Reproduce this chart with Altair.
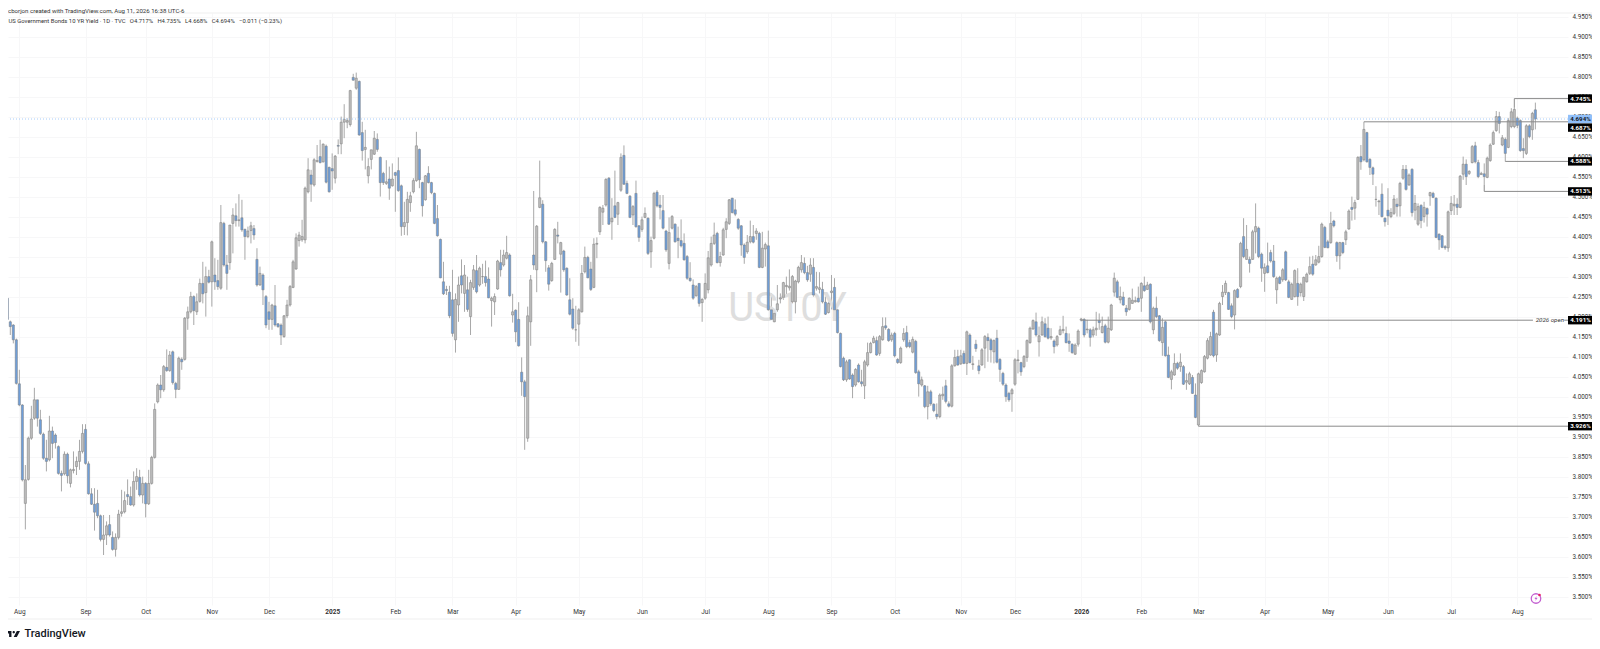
import altair as alt
import pandas as pd

# (open, close, high, low) in thousandths of a percent
seg_2024_aug = [(4246,4193,4250,4190),(4187,4175,4190,4154),(4179,4142,4181,4133),(4142,4033,4145,4030),(4032,3979,4067,3976),(3979,3792,3981,3788),(3733,3792,3829,3668),(3793,3896,3900,3790),(3896,3944,3977,3892),(3946,3992,4022,3942),(3992,3946,3992,3925),(3942,3908,3967,3904),(3906,3846,3910,3842),(3846,3838,3892,3813),(3842,3914,3952,3838),(3914,3883,3925,3846),(3904,3885,3908,3870),(3875,3808,3878,3805),(3808,3803,3815,3763),(3807,3856,3863,3803),(3856,3802,3860,3783),(3783,3817,3820,3773),(3815,3818,3863,3808),(3825,3838,3850,3804),(3838,3863,3892,3817),(3863,3908,3931,3858)]
seg_2024_sep = [(3918,3833,3931,3830),(3832,3757,3838,3755),(3757,3731,3771,3729),(3731,3711,3771,3665),(3733,3702,3767,3696),(3702,3643,3705,3638),(3643,3654,3704,3604),(3654,3677,3688,3629),(3680,3654,3704,3650),(3648,3618,3663,3615),(3618,3648,3658,3600),(3648,3706,3717,3643),(3708,3712,3767,3700),(3712,3740,3763,3708),(3755,3750,3793,3729),(3750,3729,3775,3727),(3729,3788,3813,3725),(3788,3800,3821,3767),(3798,3754,3817,3750),(3754,3783,3800,3733)]
seg_2024_oct = [(3783,3732,3786,3698),(3732,3783,3817,3729),(3783,3848,3852,3780),(3848,3968,3983,3845),(3987,4029,4033,3983),(4029,4017,4054,3996),(4017,4075,4079,4012),(4073,4065,4118,4062),(4065,4104,4114,4062),(4112,4035,4115,4030),(4033,4018,4037,3996),(4018,4096,4100,4017),(4093,4087,4098,4067),(4093,4196,4199,4090),(4196,4212,4225,4167),(4212,4250,4262,4208),(4250,4215,4253,4179),(4212,4237,4258,4204),(4238,4283,4295,4235),(4283,4257,4337,4233),(4260,4300,4325,4200),(4300,4286,4317,4283)]
seg_2024_nov = [(4287,4387,4390,4225),(4304,4287,4346,4267),(4290,4275,4342,4267),(4271,4435,4479,4267),(4433,4329,4437,4325),(4329,4308,4354,4267),(4335,4429,4429,4317),(4433,4454,4471,4358),(4452,4440,4483,4425),(4440,4442,4506,4425),(4447,4417,4492,4412),(4418,4400,4420,4342),(4400,4414,4425,4396),(4415,4427,4437,4383),(4420,4404,4429,4392),(4343,4279,4371,4275),(4279,4308,4325,4277),(4304,4267,4308,4229),(4250,4179,4254,4171)]
seg_2024_dec = [(4212,4193,4237,4167),(4193,4229,4232,4167),(4227,4179,4279,4175),(4182,4175,4184,4172),(4179,4154,4183,4129),(4150,4202,4204,4147),(4202,4229,4242,4196),(4229,4275,4279,4225),(4273,4337,4342,4271),(4319,4397,4408,4317),(4390,4404,4412,4375),(4392,4400,4442,4387),(4392,4521,4525,4383),(4512,4567,4596,4508),(4554,4531,4567,4487),(4529,4592,4596,4525),(4588,4590,4629,4585),(4600,4585,4642,4583),(4587,4631,4633,4585),(4626,4536,4630,4533),(4573,4512,4575,4510)]
seg_2025_jan = [(4570,4564,4608,4517),(4546,4601,4604,4533),(4628,4626,4643,4606),(4632,4686,4700,4606),(4686,4693,4731,4646),(4686,4690,4696,4671),(4680,4765,4767,4675),(4798,4791,4807,4790),(4771,4796,4810,4767),(4788,4654,4790,4652),(4660,4615,4687,4590),(4618,4623,4667,4568),(4552,4575,4596,4533),(4593,4617,4617,4568),(4606,4646,4664,4604),(4643,4618,4658,4612),(4598,4535,4600,4500),(4558,4535,4562,4529),(4533,4537,4591,4529),(4544,4521,4575,4492),(4527,4544,4583,4525),(4560,4553,4562,4462)]
seg_2025_feb = [(4565,4515,4598,4512),(4527,4425,4530,4402),(4425,4435,4487,4404),(4435,4493,4512,4403),(4485,4502,4512,4462),(4512,4540,4546,4508),(4540,4627,4662,4537),(4618,4542,4620,4521),(4535,4477,4537,4450),(4492,4552,4554,4490),(4558,4535,4576,4533),(4535,4510,4537,4506),(4508,4433,4510,4431),(4445,4402,4479,4400),(4393,4297,4395,4296),(4287,4257,4337,4254),(4268,4265,4277,4254),(4261,4202,4277,4196)]
seg_2025_mar = [(4242,4158,4317,4150),(4142,4243,4258,4110),(4229,4279,4300,4187),(4302,4279,4343,4258),(4258,4304,4329,4212),(4267,4218,4300,4212),(4200,4285,4292,4154),(4273,4317,4329,4267),(4315,4262,4354,4258),(4279,4321,4325,4275),(4300,4300,4332,4282),(4300,4285,4340,4275),(4294,4247,4323,4246),(4240,4246,4250,4175),(4237,4250,4258,4204),(4269,4339,4342,4267),(4335,4317,4367,4300),(4329,4354,4367,4325),(4346,4360,4402,4343),(4354,4252,4358,4250),(4204,4212,4257,4185),(4216,4162,4218,4136)]
seg_2025_apr = [(4193,4127,4236,4125),(4061,4037,4098,4002),(4037,4000,4042,3867),(3896,4202,4225,3887),(4187,4292,4304,4127),(4354,4329,4514,4317),(4317,4426,4429,4261),(4473,4497,4590,4471),(4481,4387,4491,4383),(4387,4340,4389,4312),(4322,4281,4329,4265),(4290,4333,4337,4287),(4343,4418,4421,4342),(4404,4401,4437,4383),(4356,4385,4387,4260),(4364,4317,4367,4312),(4321,4254,4323,4252),(4242,4206,4296,4203),(4219,4171,4246,4167),(4167,4167,4227,4137),(4181,4217,4221,4127)]
seg_2025_may = [(4212,4308,4329,4210),(4312,4348,4375,4308),(4348,4297,4352,4296),(4319,4268,4337,4264),(4273,4381,4396,4271),(4381,4383,4398,4346),(4412,4473,4476,4404),(4461,4471,4479,4429),(4479,4543,4546,4475),(4546,4431,4549,4429),(4437,4446,4496,4392),(4477,4448,4565,4446),(4456,4485,4487,4429),(4516,4598,4608,4512),(4603,4531,4628,4529),(4533,4508,4540,4506),(4501,4448,4504,4446),(4454,4475,4479,4429),(4508,4425,4540,4422),(4427,4398,4429,4387),(4418,4442,4450,4412)]
seg_2025_jun = [(4448,4458,4473,4446),(4446,4358,4448,4354),(4362,4390,4400,4322),(4396,4508,4512,4393),(4511,4477,4516,4473),(4479,4473,4504,4443),(4465,4421,4504,4418),(4414,4367,4417,4362),(4333,4410,4448,4318),(4421,4450,4454,4418),(4431,4387,4433,4385),(4396,4390,4425,4346),(4390,4377,4443,4373),(4383,4342,4408,4340),(4350,4296,4354,4292),(4296,4290,4336,4287),(4279,4246,4293,4242),(4252,4275,4279,4250),(4283,4233,4283,4225),(4235,4243,4246,4187),(4246,4283,4308,4242)]
seg_2025_jul = [(4267,4347,4364,4258),(4329,4383,4400,4325),(4383,4404,4435,4379),(4408,4335,4412,4333),(4335,4350,4362,4325),(4354,4417,4422,4352),(4418,4437,4446,4396),(4433,4492,4494,4429),(4496,4460,4497,4458),(4467,4456,4493,4451),(4443,4421,4446,4417),(4427,4379,4429,4352),(4379,4348,4383,4332),(4362,4386,4404,4357),(4387,4400,4440,4383),(4400,4386,4429,4383),(4408,4414,4421,4392),(4408,4323,4412,4321),(4323,4371,4412,4321),(4369,4380,4385,4325),(4377,4217,4415,4215)]
seg_2025_aug = [(4217,4193,4258,4192),(4187,4208,4212,4186),(4217,4232,4279,4212),(4244,4247,4258,4233),(4248,4285,4287,4242),(4275,4278,4300,4250),(4272,4276,4318,4265),(4237,4300,4304,4233),(4237,4289,4292,4208),(4287,4323,4327,4283),(4317,4335,4354,4310),(4333,4310,4348,4306),(4310,4292,4327,4287),(4306,4329,4346,4287),(4323,4254,4346,4250),(4271,4275,4312,4265),(4268,4272,4311,4258),(4268,4237,4287,4233),(4236,4206,4250,4204),(4210,4233,4237,4208),(4260,4264,4304,4218)]
seg_2025_sep = [(4273,4217,4296,4215),(4217,4160,4218,4158),(4158,4075,4160,4073),(4096,4042,4100,4039),(4042,4087,4092,4037),(4092,4044,4093,4042),(4054,4025,4058,3996),(4029,4068,4071,4025),(4079,4037,4083,4035),(4037,4032,4067,4025),(4027,4087,4092,3994),(4079,4110,4135,4075),(4110,4133,4137,4108),(4135,4146,4152,4133),(4140,4104,4150,4102),(4108,4150,4154,4102),(4142,4175,4198,4140),(4177,4172,4198,4167),(4168,4140,4171,4137),(4142,4154,4160,4137),(4158,4102,4162,4098)]
seg_2025_oct = [(4093,4085,4096,4082),(4085,4121,4125,4082),(4142,4158,4171,4137),(4160,4125,4177,4121),(4135,4125,4142,4121),(4111,4143,4150,4108),(4138,4060,4142,4057),(4062,4032,4067,4000),(4029,4042,4050,4025),(4027,3975,4029,3971),(3975,4012,4027,3943),(4012,3982,4017,3977),(3981,3965,3983,3961),(3956,3950,3983,3943),(3950,4004,4008,3946),(4002,4006,4025,3992),(4027,3988,4042,3983),(3982,3976,3988,3973),(3976,4077,4081,3973),(4077,4098,4117,4075),(4100,4079,4117,4077),(4082,4102,4117,4079)]
seg_2025_nov = [(4108,4083,4115,4081),(4083,4162,4165,4054),(4154,4085,4158,4083),(4080,4082,4102,4067),(4131,4120,4142,4112),(4077,4065,4092,4056),(4079,4117,4121,4077),(4121,4150,4154,4071),(4148,4140,4158,4087),(4142,4117,4146,4085),(4112,4140,4143,4083),(4146,4086,4167,4083),(4093,4068,4096,4037),(4058,4031,4062,4027),(4029,4000,4033,3987),(4008,3992,4012,3987),(4007,4017,4021,3962)]
seg_2025_dec = [(4031,4092,4096,4027),(4090,4092,4117,4058),(4085,4062,4087,4052),(4075,4100,4104,4071),(4098,4140,4143,4087),(4135,4171,4175,4132),(4169,4190,4193,4167),(4187,4154,4210,4150),(4137,4152,4175,4100),(4154,4187,4200,4152),(4182,4150,4196,4147),(4171,4146,4200,4143),(4147,4150,4171,4142),(4139,4125,4143,4108),(4129,4150,4154,4125),(4155,4167,4177,4153),(4165,4168,4202,4158),(4158,4135,4175,4133),(4139,4133,4158,4112),(4131,4110,4133,4107),(4106,4129,4133,4104),(4131,4164,4168,4125)]
seg_2026_jan = [(4191,4194,4197,4188),(4193,4154,4196,4148),(4167,4169,4192,4158),(4167,4148,4171,4125),(4154,4167,4175,4148),(4167,4171,4212,4152),(4190,4185,4208,4167),(4160,4175,4200,4158),(4177,4136,4182,4133),(4136,4171,4200,4133),(4167,4229,4232,4164),(4261,4296,4310,4250),(4287,4248,4292,4246),(4242,4250,4275,4233),(4249,4229,4262,4227),(4221,4212,4229,4202),(4218,4246,4248,4215),(4233,4241,4270,4232),(4237,4240,4250,4235),(4246,4237,4275,4235)]
seg_2026_feb = [(4246,4283,4286,4212),(4277,4265,4300,4262),(4268,4279,4287,4267),(4281,4187,4283,4183),(4167,4221,4225,4156),(4221,4200,4250,4196),(4202,4140,4204,4137),(4135,4173,4196,4102),(4187,4102,4190,4100),(4104,4048,4125,4046),(4043,4062,4067,4018),(4054,4083,4108,4052),(4083,4071,4087,4067),(4075,4086,4108,4062),(4075,4031,4079,4029),(4036,4040,4058,4017),(4032,4057,4062,4029),(4048,4008,4054,4007),(4004,3948,4033,3946)]
seg_2026_mar = [(3929,4057,4060,3927),(4035,4065,4068,4032),(4062,4100,4104,4060),(4096,4140,4146,4093),(4104,4150,4162,4102),(4211,4102,4217,4098),(4104,4157,4160,4087),(4154,4233,4237,4152),(4250,4261,4279,4229),(4260,4283,4290,4254),(4260,4218,4262,4217),(4227,4200,4233,4196),(4204,4265,4268,4168),(4268,4248,4271,4246),(4275,4383,4387,4271),(4400,4350,4446,4346),(4343,4368,4429,4342),(4343,4333,4350,4310),(4343,4412,4417,4342),(4412,4425,4483,4358),(4421,4350,4425,4346),(4356,4321,4360,4287)]
seg_2026_apr = [(4308,4323,4333,4262),(4327,4310,4385,4308),(4360,4339,4367,4335),(4339,4300,4379,4297),(4267,4296,4300,4232),(4298,4283,4302,4281),(4292,4317,4321,4287),(4362,4292,4365,4289),(4287,4248,4292,4246),(4243,4281,4285,4242),(4250,4315,4318,4248),(4283,4250,4321,4227),(4260,4281,4285,4250),(4250,4298,4300,4239),(4287,4306,4310,4285),(4308,4325,4350,4304),(4331,4306,4352,4302),(4329,4342,4354,4327),(4336,4350,4377,4333),(4350,4431,4435,4347),(4423,4373,4427,4371)]
seg_2026_may = [(4387,4372,4392,4371),(4385,4433,4462,4382),(4439,4427,4442,4423),(4385,4352,4388,4337),(4352,4385,4387,4318),(4385,4360,4387,4356),(4392,4412,4417,4379),(4419,4464,4468,4417),(4473,4468,4500,4440),(4471,4485,4492,4442),(4493,4598,4601,4492),(4600,4587,4629,4567),(4592,4668,4687,4588),(4660,4587,4662,4585),(4593,4573,4596,4554),(4572,4556,4575,4529),(4493,4493,4526,4475),(4487,4489,4492,4454),(4506,4450,4533,4448),(4446,4437,4448,4425)]
seg_2026_jun = [(4466,4452,4521,4429),(4450,4460,4471,4446),(4458,4494,4504,4454),(4481,4475,4496,4450),(4477,4533,4537,4450),(4546,4568,4579,4542),(4568,4518,4579,4515),(4529,4554,4558,4527),(4568,4460,4571,4450),(4466,4483,4504,4441),(4431,4475,4483,4427),(4478,4440,4481,4421),(4450,4473,4487,4435),(4470,4456,4473,4425),(4502,4510,4512,4477),(4508,4498,4512,4496),(4496,4398,4498,4396),(4406,4392,4408,4367),(4402,4373,4404,4371),(4375,4372,4379,4367),(4372,4462,4465,4362)]
seg_2026_jul = [(4465,4483,4501,4454),(4477,4481,4504,4454),(4481,4473,4496,4454),(4473,4551,4554,4471),(4556,4581,4600,4542),(4581,4550,4593,4529),(4558,4563,4566,4554),(4585,4625,4629,4583),(4627,4587,4637,4583),(4585,4550,4592,4546),(4555,4558,4562,4554),(4557,4550,4583,4529),(4548,4596,4600,4546),(4590,4629,4633,4587),(4631,4660,4665,4629),(4665,4700,4714,4662),(4700,4683,4712,4658),(4629,4647,4654,4626),(4643,4608,4648,4589),(4623,4690,4696,4621),(4675,4712,4721,4671)]
seg_2026_aug = [(4675,4718,4722,4671),(4696,4678,4700,4671),(4690,4615,4693,4612),(4620,4615,4646,4596),(4608,4677,4681,4604),(4677,4650,4681,4646),(4667,4708,4712,4642),(4717,4694,4735,4668)]

segments = [seg_2024_aug, seg_2024_sep, seg_2024_oct, seg_2024_nov, seg_2024_dec,
            seg_2025_jan, seg_2025_feb, seg_2025_mar, seg_2025_apr, seg_2025_may,
            seg_2025_jun, seg_2025_jul, seg_2025_aug, seg_2025_sep, seg_2025_oct,
            seg_2025_nov, seg_2025_dec, seg_2026_jan, seg_2026_feb, seg_2026_mar,
            seg_2026_apr, seg_2026_may, seg_2026_jun, seg_2026_jul, seg_2026_aug]

month_bars = [4, 26, 46, 68, 87, 108, 129, 148, 169, 190, 211, 232, 253, 274, 295, 317, 335, 357, 377, 396, 418, 439, 459, 480, 502]
month_names = ["Aug", "Sep", "Oct", "Nov", "Dec", "2025", "Feb", "Mar", "Apr", "May", "Jun", "Jul", "Aug", "Sep", "Oct", "Nov", "Dec", "2026", "Feb", "Mar", "Apr", "May", "Jun", "Jul", "Aug"]
year_bars = [108, 357]

level_values = [4.745, 4.687, 4.588, 4.513, 4.191, 3.926]
level_start = [501, 451, 498, 491, 357, 396]
level_from = [4.722, 4.687, 4.589, 4.529, 4.191, 3.927]
level_end = [519, 519, 519, 519, 507.2, 519]
tag_places = [4.694, 4.745, 4.6725, 4.588, 4.513, 4.191, 3.926]
tag_labels = ["4.694%", "4.745%", "4.687%", "4.588%", "4.513%", "4.191%", "3.926%"]
tag_fill = ["#90bff9", "#000000", "#000000", "#000000", "#000000", "#000000", "#000000"]
tag_text = ["#131722", "#ffffff", "#ffffff", "#ffffff", "#ffffff", "#ffffff", "#ffffff"]
last_close = 4.694

y_ticks = [round(3.5 + 0.05 * k, 2) for k in range(30)]

header_1 = "cborjon created with TradingView.com, Aug 11, 2026 16:38 UTC-6"
gap = "\u00a0\u00a0\u00a0"
header_2 = ("US Government Bonds 10 YR Yield · 1D · TVC" + gap + "O4.717%" + gap + "H4.735%" + gap + "L4.668%" + gap +
            "C4.694%" + gap + "−0.011 (−0.23%)")

rows = []
for seg in segments:
    for o, c, h, l in seg:
        rows.append(dict(i=len(rows), open=o / 1000, close=c / 1000, high=max(o, c, h) / 1000, low=min(o, c, l) / 1000,
                         dir="up" if c >= o else "down"))
bars = pd.DataFrame(rows)

FONT = "Roboto"
W, H = 1560, 592
x_scale = alt.Scale(domain=[0.233, 518.85], nice=False, zero=False, padding=0)
y_scale = alt.Scale(domain=[3.479, 4.959], nice=False, zero=False, padding=0)

label_map = ",".join(f"'{b}':'{n}'" for b, n in zip(month_bars, month_names))
x_axis = alt.Axis(values=month_bars, labelExpr="({" + label_map + "})[datum.value]", title=None, domain=False, ticks=False,
                  grid=True, gridColor="#f7f7f8", gridWidth=1, labelFont=FONT, labelFontSize=6.5, labelColor="#333333",
                  labelPadding=3, labelOverlap=False, labelFlush=False, labelAngle=0,
                  labelFontWeight=alt.ExprRef("indexof(" + str(year_bars) + ", datum.value) >= 0 ? 'bold' : 'normal'"))
y_axis = alt.Axis(values=y_ticks, orient="right", labelExpr="format(datum.value, '.3f') + '%'", title=None, domain=False,
                  ticks=False, grid=True, gridColor="#f7f7f8", gridWidth=1, labelFont=FONT, labelFontSize=6.3,
                  labelColor="#333333", labelPadding=4, labelOverlap=False, labelFlush=False)


def XF(field):
    return alt.X(field, scale=x_scale, axis=x_axis)


def YF(field):
    return alt.Y(field, scale=y_scale, axis=y_axis)


watermark = alt.Chart(pd.DataFrame({"t": ["US10Y"]})).mark_text(
    font=FONT, fontSize=40, color="#dedede", align="center", baseline="middle"
).encode(text="t:N", x=alt.value(779.5), y=alt.value(296))

wicks = alt.Chart(bars).mark_rule(color="#a8a8a8", strokeWidth=1).encode(x=XF("i:Q"), y=YF("low:Q"), y2="high:Q")
bodies = alt.Chart(bars).mark_bar(size=2.2, stroke="#7c7c7c", strokeWidth=0.5).encode(
    x=XF("i:Q"), y=YF("open:Q"), y2="close:Q",
    color=alt.Color("dir:N", scale=alt.Scale(domain=["up", "down"], range=["#bdbdbd", "#6f9fda"]), legend=None))

levels = pd.DataFrame({"start": level_start, "end": level_end, "value": level_values, "from": level_from})
level_h = alt.Chart(levels).mark_rule(color="#8a8a8a", strokeWidth=1).encode(x=XF("start:Q"), x2="end:Q", y=YF("value:Q"))
level_v = alt.Chart(levels).mark_rule(color="#8a8a8a", strokeWidth=1).encode(x=XF("start:Q"), y=YF("value:Q"), y2="from:Q")
price_line = alt.Chart(pd.DataFrame({"v": [last_close]})).mark_rule(color="#90bff9", strokeWidth=0.8, strokeDash=[1, 2]).encode(y=YF("v:Q"))

open_stub = alt.Chart(pd.DataFrame({"a": [517.6], "b": [519], "v": [4.191]})).mark_rule(color="#8a8a8a").encode(
    x=XF("a:Q"), x2="b:Q", y=YF("v:Q"))
open_label = alt.Chart(pd.DataFrame({"t": ["2026 open"], "i": [512.8], "v": [4.191]})).mark_text(
    font=FONT, fontSize=6.2, fontStyle="italic", color="#333333", align="center", baseline="middle"
).encode(text="t:N", x=XF("i:Q"), y=YF("v:Q"))

tags = pd.DataFrame({"v": tag_places, "label": tag_labels, "fill": tag_fill, "fg": tag_text})
tags["lo"] = tags.v - 0.0105
tags["hi"] = tags.v + 0.0105
tag_box = alt.Chart(tags).mark_rect().encode(
    x=alt.value(1560), x2=alt.value(1585), y=YF("lo:Q"), y2="hi:Q", fill=alt.Fill("fill:N", scale=None))
tag_txt = alt.Chart(tags).mark_text(font=FONT, fontSize=6.2, fontWeight="bold", align="center", baseline="middle").encode(
    text="label:N", x=alt.value(1572.5), y=YF("v:Q"), color=alt.Color("fg:N", scale=None))


def line_text(t, x, y, size, color="#333333", weight="normal"):
    return alt.Chart(pd.DataFrame({"t": [t]})).mark_text(
        font=FONT, fontSize=size, color=color, align="left", baseline="middle", fontWeight=weight
    ).encode(text="t:N", x=alt.value(x), y=alt.value(y))


frame_top = alt.Chart(pd.DataFrame({"a": [0]})).mark_rule(color="#efefef").encode(x=alt.value(0), x2=alt.value(1584), y=alt.value(0))
frame_bot = alt.Chart(pd.DataFrame({"a": [0]})).mark_rule(color="#efefef").encode(x=alt.value(0), x2=alt.value(1584), y=alt.value(606))

logo_path = ("M-1 -0.417H-0.222V0.417H-0.556V-0.083H-1Z "
             "M-0.06 -0.25a0.167 0.167 0 1 0 0.334 0a0.167 0.167 0 1 0 -0.334 0Z "
             "M0.55 -0.417H1L0.55 0.417H0.1Z")
logo = alt.Chart(pd.DataFrame({"a": [0]})).mark_point(shape=logo_path, filled=True, color="#131722", size=196, opacity=1).encode(
    x=alt.value(5), y=alt.value(621))
logo_text = line_text("TradingView", 16.5, 621, 11, "#131722", 500)

ring = alt.Chart(pd.DataFrame({"a": [0]})).mark_point(shape="circle", filled=False, color="#c35fd0", size=90, strokeWidth=1.3, opacity=1).encode(
    x=alt.value(1528), y=alt.value(585.5))
dot = alt.Chart(pd.DataFrame({"a": [0]})).mark_point(shape="circle", filled=True, color="#e91e63", size=7, opacity=1).encode(
    x=alt.value(1531.5), y=alt.value(582))
bolt = alt.Chart(pd.DataFrame({"a": [0]})).mark_point(shape="M0.3 -1L-0.6 0.2H-0.05L-0.3 1L0.6 -0.2H0.05Z", filled=True, color="#c35fd0", size=25, opacity=1).encode(
    x=alt.value(1528), y=alt.value(585.5))

chart = alt.layer(
    wicks, watermark, bodies, price_line, level_h, level_v, open_stub, open_label,
    tag_box, tag_txt, frame_top, frame_bot,
    line_text(header_1, 0, -2, 6.1), line_text(header_2, 0.5, 7.5, 5.9),
    logo, logo_text, ring, dot, bolt,
).properties(
    width=W, height=H, autosize=alt.AutoSizeParams(type="none"), background="#ffffff",
    padding={"left": 0, "top": 5, "right": 24, "bottom": 36},
).configure_view(stroke=None)

chart.save("out.html", embed_options={"renderer": "svg", "actions": False})
